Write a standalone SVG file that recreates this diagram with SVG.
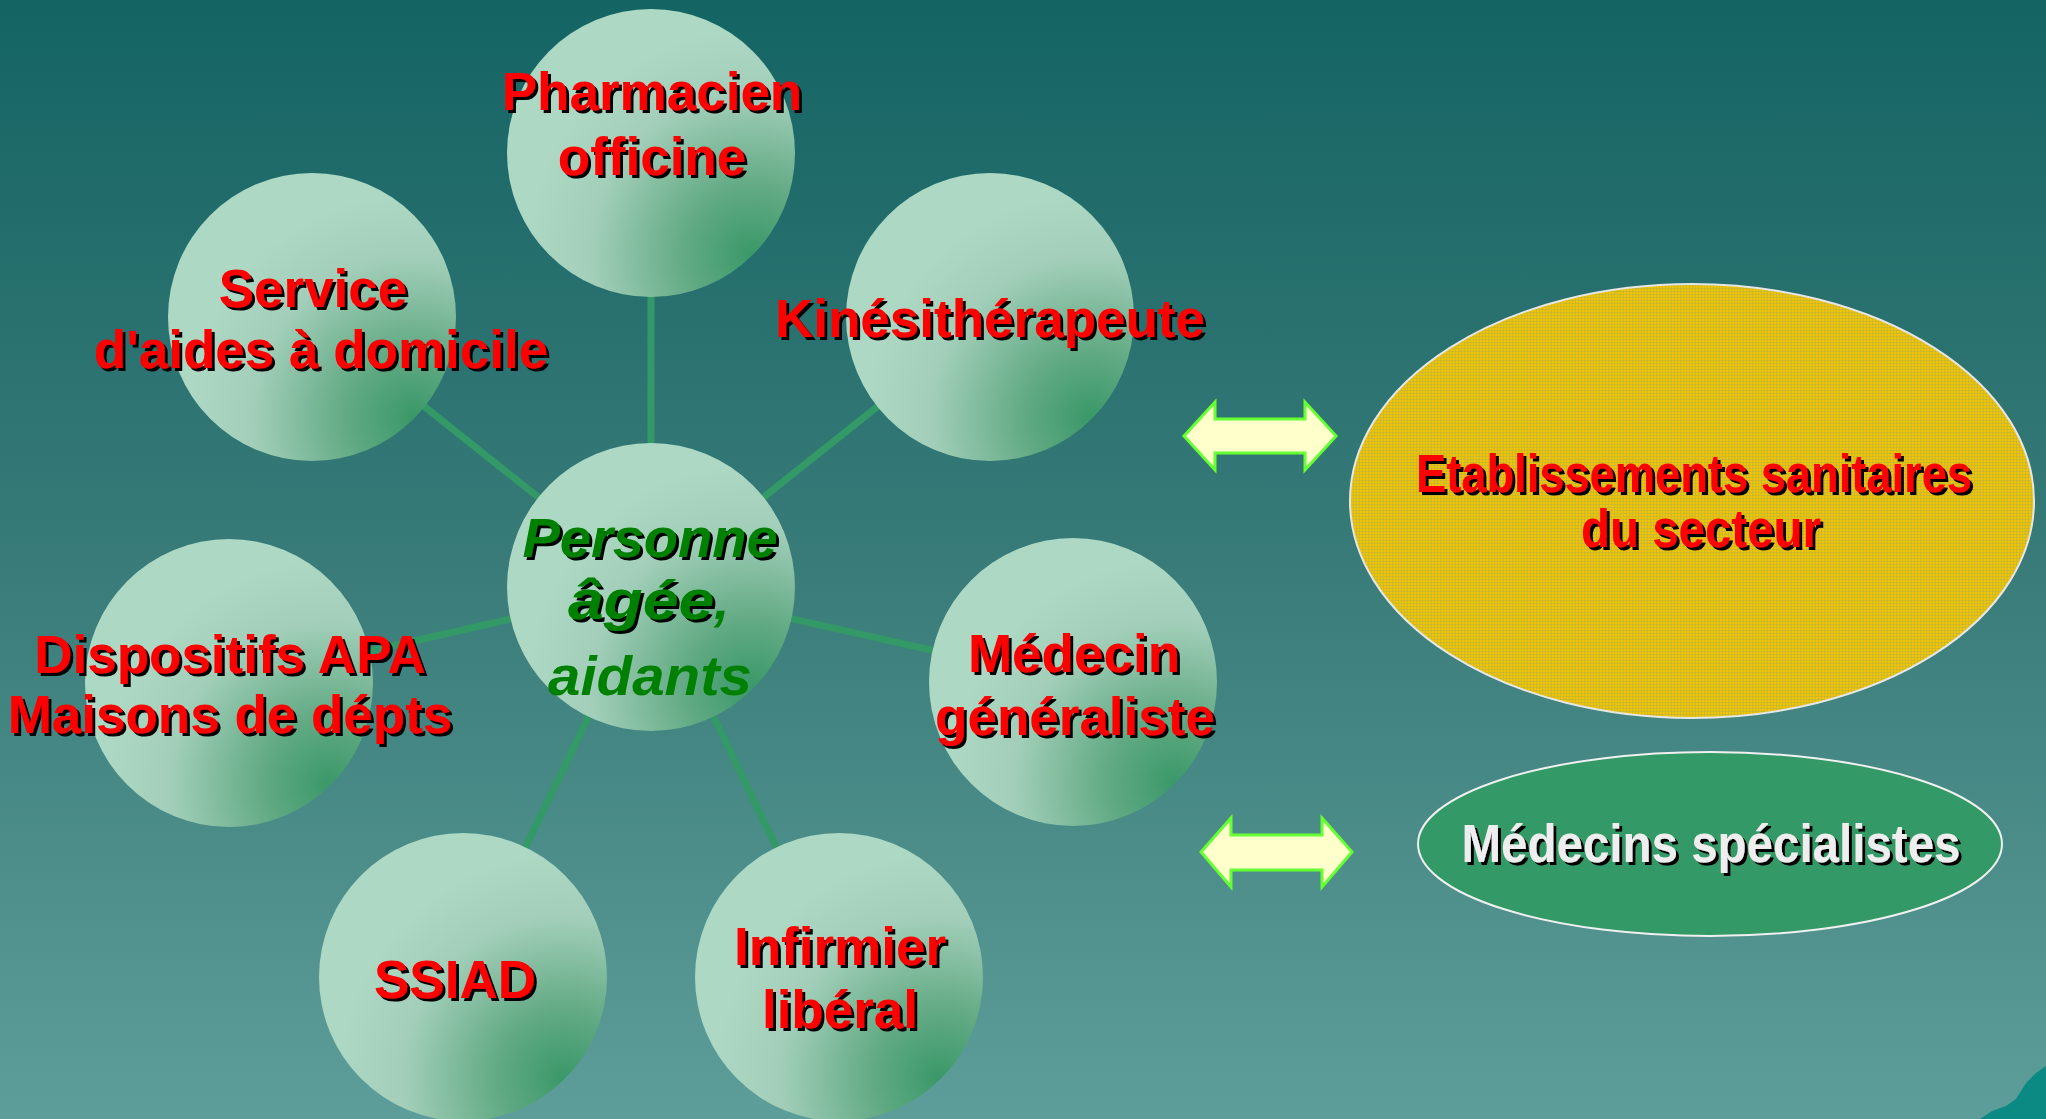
<svg xmlns="http://www.w3.org/2000/svg" width="2046" height="1119" viewBox="0 0 2046 1119">
<defs>
<linearGradient id="bg" x1="0" y1="0" x2="0" y2="1">
<stop offset="0" stop-color="#146464"/>
<stop offset="0.5" stop-color="#387b78"/>
<stop offset="1" stop-color="#5e9e9a"/>
</linearGradient>
<radialGradient id="ball" cx="0.85" cy="0.85" r="0.78" fx="0.85" fy="0.85">
<stop offset="0" stop-color="#3a9868"/>
<stop offset="0.3" stop-color="#62aa84"/>
<stop offset="0.72" stop-color="#a3cfba"/>
<stop offset="1" stop-color="#acd8c4"/>
</radialGradient>
<pattern id="grid" width="3" height="3" patternUnits="userSpaceOnUse">
<rect width="3" height="3" fill="#f0c400"/>
<rect width="1" height="3" fill="#b8b048" opacity="0.55"/>
<rect width="3" height="1" fill="#b8b048" opacity="0.55"/>
</pattern>
<filter id="sh" x="-5%" y="-20%" width="115%" height="150%">
<feOffset in="SourceAlpha" dx="2.5" dy="2.5" result="o"/>
<feMerge><feMergeNode in="o"/><feMergeNode in="SourceGraphic"/></feMerge>
</filter>
</defs>
<style>
.ball{fill:url(#ball)}
.link{stroke:#339966;stroke-width:7;fill:none}
.lbl{font-family:"Liberation Sans",Arial,sans-serif;font-weight:bold;font-size:53px;fill:#ff0000;text-anchor:middle;filter:url(#sh)}
.ctr{font-family:"Liberation Sans",Arial,sans-serif;font-weight:bold;font-style:italic;font-size:56px;fill:#008000}
.arr{fill:#ffffcc;stroke:#66ff33;stroke-width:3;stroke-linejoin:miter}
</style>
<rect width="2046" height="1119" fill="url(#bg)"/>
<path d="M1980,1119 L1992,1111 L2006,1106 L2016,1099 L2026,1083 L2036,1073 L2046,1066 L2046,1119 Z" fill="#0b8a84"/>

<g id="connectors">
<line class="link" x1="651" y1="587" x2="651" y2="153"/>
<line class="link" x1="651" y1="587" x2="312" y2="317"/>
<line class="link" x1="651" y1="587" x2="990" y2="317"/>
<line class="link" x1="651" y1="587" x2="229" y2="683"/>
<line class="link" x1="651" y1="587" x2="1073" y2="682"/>
<line class="link" x1="651" y1="587" x2="463" y2="977"/>
<line class="link" x1="651" y1="587" x2="839" y2="977"/>
</g>

<g id="pharmacien">
<circle class="ball" cx="651" cy="153" r="144"/>
<text class="lbl" x="652" y="110">Pharmacien</text>
<text class="lbl" x="652" y="175">officine</text>
</g>
<g id="service">
<circle class="ball" cx="312" cy="317" r="144"/>
<text class="lbl" x="313" y="307">Service</text>
<text class="lbl" x="321" y="368">d'aides à domicile</text>
</g>
<g id="kine">
<circle class="ball" cx="990" cy="317" r="144"/>
<text class="lbl" x="990" y="337" font-size="52">Kinésithérapeute</text>
</g>
<g id="dispositifs">
<circle class="ball" cx="229" cy="683" r="144"/>
<text class="lbl" x="230" y="673">Dispositifs APA</text>
<text class="lbl" x="230" y="733">Maisons de dépts</text>
</g>
<g id="medecin">
<circle class="ball" cx="1073" cy="682" r="144"/>
<text class="lbl" x="1074" y="672">Médecin</text>
<text class="lbl" x="1075" y="735">généraliste</text>
</g>
<g id="ssiad">
<circle class="ball" cx="463" cy="977" r="144"/>
<text class="lbl" x="455" y="998">SSIAD</text>
</g>
<g id="infirmier">
<circle class="ball" cx="839" cy="977" r="144"/>
<text class="lbl" x="840" y="965">Infirmier</text>
<text class="lbl" x="840" y="1028">libéral</text>
</g>
<g id="personne">
<circle class="ball" cx="651" cy="587" r="144"/>
<text class="ctr" x="650" y="557" text-anchor="middle" filter="url(#sh)">Personne</text>
<text class="ctr" x="714" y="619" text-anchor="end" textLength="146" lengthAdjust="spacingAndGlyphs" filter="url(#sh)">âgée</text>
<text class="ctr" x="714" y="619">,</text>
<text class="ctr" x="650" y="695" text-anchor="middle" textLength="204" lengthAdjust="spacingAndGlyphs">aidants</text>
</g>

<g id="arrow1">
<path class="arr" d="M1184,436 L1215,402 L1215,419 L1305,419 L1305,402 L1336,436 L1305,470 L1305,453 L1215,453 L1215,470 Z"/>
</g>
<g id="arrow2">
<path class="arr" d="M1201,852 L1231,818 L1231,835 L1322,835 L1322,818 L1352,852 L1322,887 L1322,870 L1231,870 L1231,887 Z"/>
</g>

<g id="etablissements">
<ellipse cx="1692" cy="501" rx="342" ry="217" fill="url(#grid)" stroke="#e6e6e6" stroke-width="2"/>
<text class="lbl" x="1694" y="492" font-size="42" textLength="556" lengthAdjust="spacingAndGlyphs">Etablissements sanitaires</text>
<text class="lbl" x="1701" y="547" font-size="42" textLength="240" lengthAdjust="spacingAndGlyphs">du secteur</text>
</g>
<g id="specialistes">
<ellipse cx="1710" cy="844" rx="292" ry="92" fill="#339966" stroke="#f0f0f0" stroke-width="2"/>
<text class="lbl" x="1711" y="862" font-size="42" textLength="499" lengthAdjust="spacingAndGlyphs" style="fill:#eeeeee">Médecins spécialistes</text>
</g>
</svg>
